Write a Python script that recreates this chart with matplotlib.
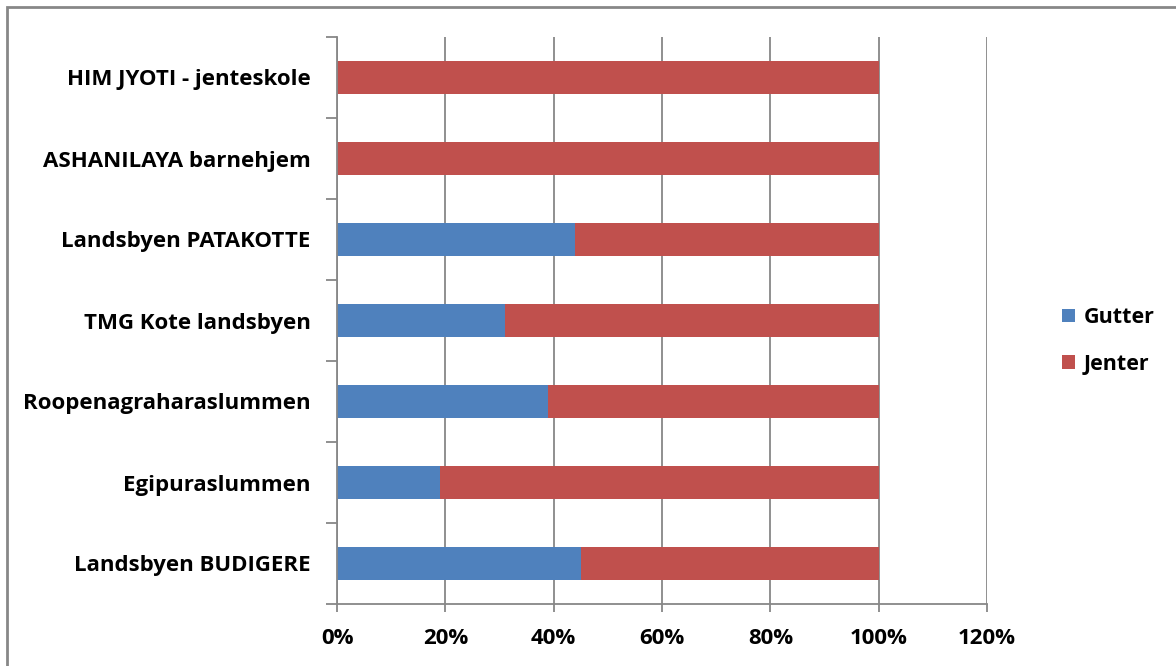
import matplotlib.pyplot as plt
from matplotlib.patches import Rectangle
from matplotlib.ticker import FuncFormatter

# Andel gutter / jenter per prosjekt (nederst -> øverst)
steder = ['Landsbyen BUDIGERE', 'Egipuraslummen', 'Roopenagraharaslummen',
          'TMG Kote landsbyen', 'Landsbyen PATAKOTTE', 'ASHANILAYA barnehjem',
          'HIM JYOTI - jenteskole']
gutter = [45, 19, 39, 31, 44, 0, 0]
jenter = [55, 81, 61, 69, 56, 100, 100]

plt.rcParams['font.family'] = ['Open Sans', 'DejaVu Sans']
plt.rcParams['font.weight'] = 'bold'

fig = plt.figure(figsize=(11.76, 6.66), dpi=100)
ax = fig.add_axes([337/1176, 1-604/666, (987-337)/1176, (604-37)/666])

pos = list(range(len(steder)))
ax.barh(pos, gutter, height=0.4, color='#4F81BD', label='Gutter')
ax.barh(pos, jenter, left=gutter, height=0.4, color='#C0504D', label='Jenter')

ax.set_xlim(0, 120)
ax.set_ylim(-0.5, len(steder) - 0.5)
ax.set_xticks(range(0, 121, 20))
ax.xaxis.set_major_formatter(FuncFormatter(lambda v, p: f'{int(v)}%'))
ax.set_yticks(pos)
ax.set_yticklabels(steder, fontweight='bold')
ax.set_yticks([p - 0.5 for p in pos] + [len(steder) - 0.5], minor=True)
ax.tick_params(axis='y', which='major', length=0, pad=19, labelsize=16)
ax.tick_params(axis='y', which='minor', length=8, color='#878787', width=1.3)
ax.tick_params(axis='x', length=6, color='#878787', width=1.3, labelsize=16, pad=11)
for t in ax.get_xticklabels():
    t.set_fontweight('bold')

ax.grid(axis='x', color='#878787', linewidth=1.3)
ax.set_axisbelow(True)
for s in ['top', 'right']:
    ax.spines[s].set_visible(False)
for s in ['left', 'bottom']:
    ax.spines[s].set_color('#878787')
    ax.spines[s].set_linewidth(1.3)

fig.legend(loc='center left', bbox_to_anchor=(1043/1176, 1-341/666), frameon=False,
           prop={'size': 15.5, 'weight': 'bold'}, handlelength=0.6, handleheight=0.6,
           labelspacing=1.2, handletextpad=0.4)

fig.patches.append(Rectangle((7/1176, -0.01), 1.02, 1 - 7/666 + 0.01, transform=fig.transFigure,
                             fill=False, edgecolor='#878787', linewidth=2))

fig.savefig('out.png', dpi=100)
